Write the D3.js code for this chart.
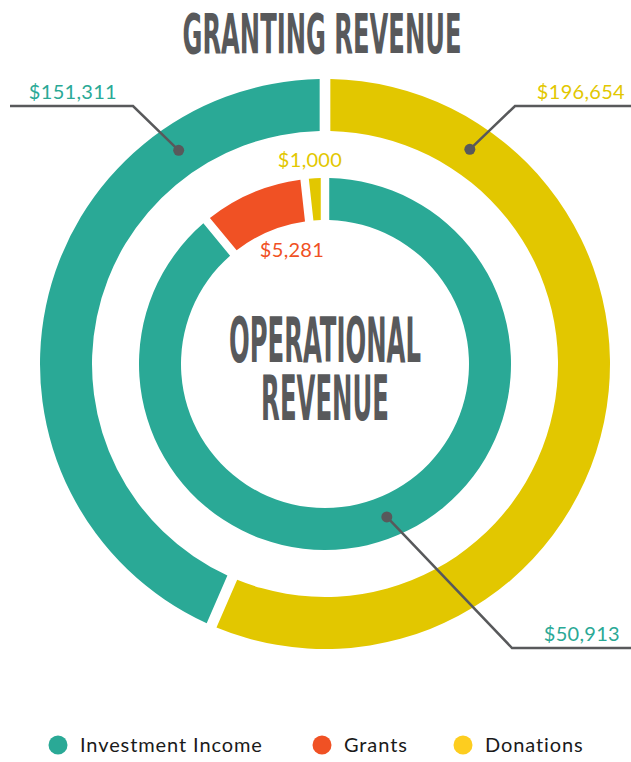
<!DOCTYPE html>
<html>
<head>
<meta charset="utf-8">
<script src="https://cdn.jsdelivr.net/npm/d3@7"></script>
<style>
  body { margin: 0; background: #fff; }
  svg { display: block; }
</style>
</head>
<body>
<div id="chart"></div>
<script>
// data
const categories = ['Investment Income', 'Grants', 'Donations']
const grantingCategories = ['Donations', 'Investment Income']
const grantingValues = [196654, 151311]
const operationalCategories = ['Investment Income', 'Grants', 'Donations']
const operationalValues = [50913, 5281, 1000]

// format
const currency = d3.format('$,')

// size
const width = 631
const height = 762
const cx = 325
const cy = 364

const color = d3
  .scaleOrdinal()
  .domain(categories)
  .range(['#2aa996', '#f05124', '#e2c700'])

const legendColor = d3
  .scaleOrdinal()
  .domain(categories)
  .range(['#2aa996', '#f05124', '#fdcd1f'])

const svg = d3
  .select('#chart')
  .append('svg')
  .attr('width', width)
  .attr('height', height)

const plot = svg.append('g').attr('transform', `translate(${cx}, ${cy})`)

const pie = d3.pie().sort(null)

// outer ring
const outerArc = d3.arc().innerRadius(233).outerRadius(285).padAngle(0.029)
const outerData = pie(grantingValues)
plot
  .selectAll('path.outer')
  .data(outerData)
  .enter()
  .append('path')
  .attr('class', 'outer')
  .attr('d', outerArc)
  .attr('fill', (d, i) => color(grantingCategories[i]))

// inner ring
const innerArc = d3.arc().innerRadius(144).outerRadius(186).padAngle(0.036)
const innerData = pie(operationalValues)
plot
  .selectAll('path.inner')
  .data(innerData)
  .enter()
  .append('path')
  .attr('class', 'inner')
  .attr('d', innerArc)
  .attr('fill', (d, i) => color(operationalCategories[i]))

// callouts (angle in degrees clockwise from top, elbow and line end in page coords)
const callouts = [
  { value: grantingValues[1], cat: 'Investment Income', r: 259, angle: 325.6, elbow: [133, 106], end: 10, tx: 117, ty: 99 },
  { value: grantingValues[0], cat: 'Donations', r: 259, angle: 34, elbow: [515, 106], end: 631, tx: 625, ty: 99 },
  { value: operationalValues[0], cat: 'Investment Income', r: 165, angle: 158, elbow: [512, 648], end: 631, tx: 620, ty: 641 },
]

callouts.forEach(c => {
  const a = (c.angle * Math.PI) / 180
  const dx = cx + c.r * Math.sin(a)
  const dy = cy - c.r * Math.cos(a)
  svg
    .append('polyline')
    .attr('points', `${dx},${dy} ${c.elbow[0]},${c.elbow[1]} ${c.end},${c.elbow[1]}`)
    .attr('fill', 'none')
    .attr('stroke', '#58595b')
    .attr('stroke-width', 2.5)
  svg
    .append('circle')
    .attr('cx', dx)
    .attr('cy', dy)
    .attr('r', 5.5)
    .attr('fill', '#58595b')
  svg
    .append('text')
    .attr('x', c.tx)
    .attr('y', c.ty)
    .attr('text-anchor', 'end')
    .attr('font-family', 'Lato, sans-serif')
    .attr('font-size', '20px')
    .attr('letter-spacing', '0.3px')
    .attr('fill', color(c.cat))
    .text(currency(c.value))
})

// small inner labels
svg
  .append('text')
  .attr('x', 310)
  .attr('y', 167)
  .attr('text-anchor', 'middle')
  .attr('font-family', 'Lato, sans-serif')
  .attr('font-size', '20px')
  .attr('letter-spacing', '0.3px')
  .attr('fill', color('Donations'))
  .text(currency(operationalValues[2]))

svg
  .append('text')
  .attr('x', 292)
  .attr('y', 257)
  .attr('text-anchor', 'middle')
  .attr('font-family', 'Lato, sans-serif')
  .attr('font-size', '20px')
  .attr('letter-spacing', '0.3px')
  .attr('fill', color('Grants'))
  .text(currency(operationalValues[1]))

// titles: condensed by a horizontal scale so the box stays true
function condensed(lines, x, y, w, size, lineGap) {
  const g = svg.append('g')
  const t = g
    .append('text')
    .attr('text-anchor', 'middle')
    .attr('font-family', '"DejaVu Sans Condensed", "Liberation Sans Narrow", sans-serif')
    .attr('font-weight', 'bold')
    .attr('font-size', size)
    .attr('fill', '#58595b')
  const spans = lines.map((l, i) =>
    t.append('tspan').attr('x', 0).attr('y', i * lineGap).text(l),
  )
  const natural = spans[0].node().getComputedTextLength()
  g.attr('transform', `translate(${x}, ${y}) scale(${w / natural}, 1)`)
}

condensed(['GRANTING REVENUE'], 322, 53, 279, '56px', 0)
condensed(['OPERATIONAL', 'REVENUE'], 325, 362, 192, '62px', 58)

// legend
const legendX = [58, 322, 463]
const legend = svg.append('g').attr('transform', 'translate(0, 745)')
categories.forEach((c, i) => {
  const row = legend.append('g')
  row
    .append('circle')
    .attr('cx', legendX[i])
    .attr('cy', 0)
    .attr('r', 9.5)
    .attr('fill', legendColor(c))
  row
    .append('text')
    .attr('x', legendX[i] + 22)
    .attr('y', 7)
    .attr('font-family', 'Lato, sans-serif')
    .attr('font-size', '20px')
    .attr('letter-spacing', '0.9px')
    .attr('fill', '#1a1a1a')
    .text(c)
})
</script>
</body>
</html>
